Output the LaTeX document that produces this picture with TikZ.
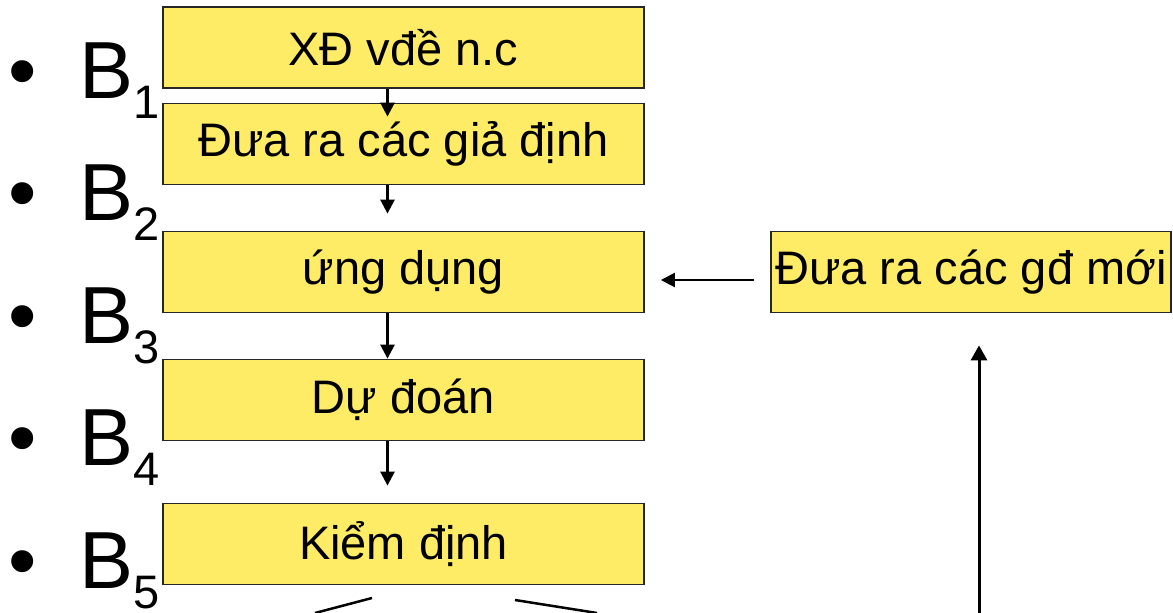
\documentclass[tikz,border=0pt]{standalone}
\usepackage{fontspec}
\setmainfont{Liberation Sans}
\usetikzlibrary{arrows.meta}
\definecolor{boxyellow}{RGB}{255,236,102}

\tikzset{
	stepbox/.style = {draw=black!85, line width=1.8pt, fill=boxyellow, minimum width=481pt, minimum height=81pt, inner sep=0pt, font=\fontsize{47}{56}\selectfont},
	flow/.style = {line width=2.6pt, -{Triangle[length=14pt,width=14pt]}},
}

\begin{document}
\begin{tikzpicture}[x=1pt,y=-1pt]
	\useasboundingbox (0,0) rectangle (1173,613);
	
	% steps B1..B5
	\foreach \n [count=\i from 0] in {1,...,5}
		\node[anchor=base west, inner sep=0pt, font=\fontsize{81}{81}\selectfont] (b\n) at (8,98+122.5*\i) {•\hspace{43pt}B\raisebox{-20pt}{\fontsize{47}{47}\selectfont\n}};
	
	\node[stepbox] (xd) at (403.5,47.5) {XĐ vđề n.c};
	\node[stepbox] (gd) at (403.5,144) {Đưa ra các giả định};
	\node[stepbox] (ud) at (403.5,272) {ứng dụng};
	\node[stepbox] (dd) at (403.5,400) {Dự đoán};
	\node[stepbox] (kd) at (403.5,544) {Kiểm định};
	\node[stepbox, minimum width=400pt] (gdm) at (971,272) {Đưa ra các gđ mới};
	
	\draw[flow] ([xshift=-16pt]xd.south) -- ([xshift=-16pt,yshift=-14pt]gd.north);
	\draw[flow] ([xshift=-16pt]gd.south) -- ([xshift=-16pt,yshift=17pt]ud.north);
	\draw[flow] ([xshift=-16pt]ud.south) -- ([xshift=-16pt]dd.north);
	\draw[flow] ([xshift=-16pt]dd.south) -- ([xshift=-16pt,yshift=17pt]kd.north);
	\draw[flow, shorten <=16pt, shorten >=16pt] ([yshift=-8pt]gdm.west) -- ([yshift=-8pt]ud.east);
	
	\coordinate (upfoot) at (979,613);
	\draw[flow, line width=3pt, -{Triangle[length=15pt,width=16pt]}] (upfoot) -- ([xshift=8pt,yshift=-32pt]gdm.south);
	
	% lines leaving Kiem dinh
	\coordinate (kdl) at (372,598);
	\coordinate (kdr) at (515,600);
	\draw[line width=2.5pt] (kdl) -- (315,613);
	\draw[line width=2.5pt] (kdr) -- (597,613);
\end{tikzpicture}
\end{document}
